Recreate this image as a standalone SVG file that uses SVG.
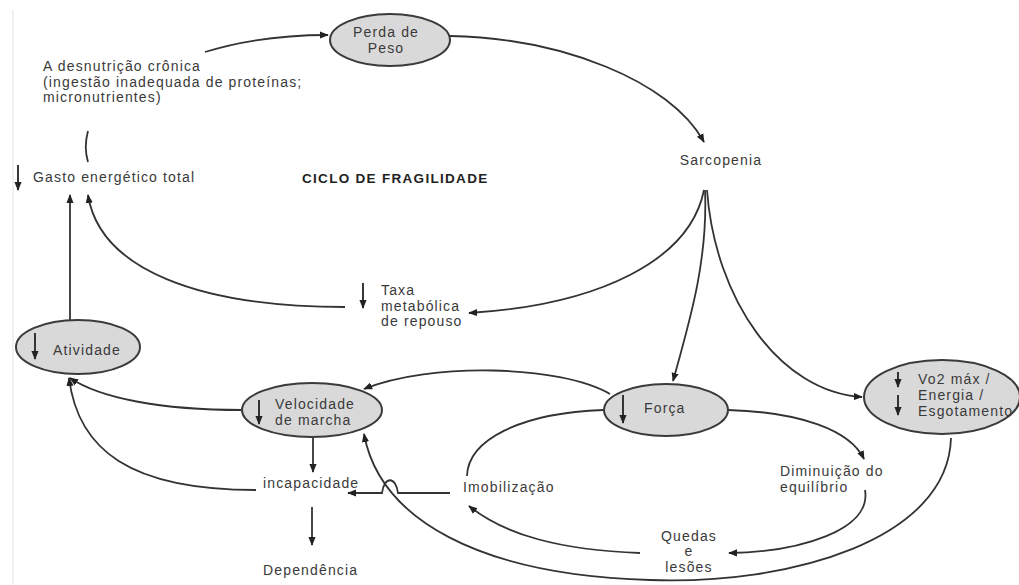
<svg xmlns="http://www.w3.org/2000/svg" width="1019" height="585" viewBox="0 0 1019 585">
<style>
.t{font-family:"Liberation Sans",Arial,sans-serif;font-size:14px;letter-spacing:1.15px;fill:#3a3a3a}
.b{font-family:"Liberation Sans",Arial,sans-serif;font-size:13.5px;letter-spacing:1.3px;font-weight:bold;fill:#222}
.n{fill:#d9d9d9;stroke:#3a3a3a;stroke-width:2}
.c{fill:none;stroke:#333;stroke-width:1.8}
.d{fill:none;stroke:#222;stroke-width:1.8}
</style>
<defs>
<marker id="ah" viewBox="0 0 10 10" refX="9" refY="5" markerWidth="9" markerHeight="9" markerUnits="userSpaceOnUse" orient="auto"><path d="M0,1 L10,5 L0,9 z" fill="#222"/></marker>
</defs>
<rect width="1019" height="585" fill="#fff"/>
<line x1="13" y1="10" x2="13" y2="585" stroke="#ececec" stroke-width="1.5"/>

<g id="connectors">
<path class="c" d="M205,52 C250,38 290,35 328,35" marker-end="url(#ah)"/>
<path class="c" d="M450,36 C560,38 670,80 704,142" marker-end="url(#ah)"/>
<path class="c" d="M88,131 C85,142 85,152 88,162"/>
<line class="c" x1="70" y1="320" x2="70" y2="195" marker-end="url(#ah)"/>
<path class="c" d="M345,307 C200,307 100,270 88,195" marker-end="url(#ah)"/>
<path class="c" d="M704,190 C690,260 600,305 469,313" marker-end="url(#ah)"/>
<path class="c" d="M705,190 C708,260 690,320 673,381" marker-end="url(#ah)"/>
<path class="c" d="M707,190 C715,300 780,392 862,397" marker-end="url(#ah)"/>
<path class="c" d="M610,394 C560,365 430,362 364,389" marker-end="url(#ah)"/>
<path class="c" d="M242,410 C160,410 100,398 70,378" marker-end="url(#ah)"/>
<path class="c" d="M256,490 C130,490 78,450 69,378" marker-end="url(#ah)"/>
<line class="c" x1="313" y1="438" x2="313" y2="472" marker-end="url(#ah)"/>
<line class="c" x1="312" y1="507" x2="312" y2="545" marker-end="url(#ah)"/>
<path class="c" d="M603,410 C520,413 468,440 467,476"/>
<path class="c" d="M728,410 C800,412 850,430 864,459" marker-end="url(#ah)"/>
<path class="c" d="M865,490 C872,530 800,552 729,553" marker-end="url(#ah)"/>
<path class="c" d="M640,553 C560,550 505,535 469,506" marker-end="url(#ah)"/>
<path class="c" d="M450,493 L398,493 C396,476 384,476 382,493 L348,493" marker-end="url(#ah)"/>
<path class="c" d="M951,438 C948,540 790,585 650,580 C480,575 380,520 364,434" marker-end="url(#ah)"/>
</g>

<g id="perda">
<ellipse class="n" cx="390" cy="40" rx="60" ry="26"/>
<text class="t" x="386" y="37" text-anchor="middle">Perda de</text>
<text class="t" x="386" y="53" text-anchor="middle">Peso</text>
</g>

<g id="desnutricao">
<text class="t" x="43" y="71">A desnutrição crônica</text>
<text class="t" x="43" y="87">(ingestão inadequada de proteínas;</text>
<text class="t" x="43" y="102">micronutrientes)</text>
</g>

<g id="sarcopenia">
<text class="t" x="721" y="165" text-anchor="middle">Sarcopenia</text>
</g>

<g id="gasto">
<line class="d" x1="18" y1="165" x2="18" y2="190" marker-end="url(#ah)"/>
<text class="t" x="33" y="182">Gasto energético total</text>
</g>

<g id="titulo">
<text class="b" x="302" y="183">CICLO DE FRAGILIDADE</text>
</g>

<g id="taxa">
<line class="d" x1="363" y1="283" x2="363" y2="308" marker-end="url(#ah)"/>
<text class="t" x="381" y="295">Taxa</text>
<text class="t" x="381" y="311">metabólica</text>
<text class="t" x="381" y="326">de repouso</text>
</g>

<g id="atividade">
<ellipse class="n" cx="78" cy="347" rx="62" ry="27"/>
<line class="d" x1="35" y1="333" x2="35" y2="359" marker-end="url(#ah)"/>
<text class="t" x="53" y="355">Atividade</text>
</g>

<g id="velocidade">
<ellipse class="n" cx="312" cy="410" rx="70" ry="27"/>
<line class="d" x1="259" y1="400" x2="259" y2="424" marker-end="url(#ah)"/>
<text class="t" x="275" y="409">Velocidade</text>
<text class="t" x="275" y="425">de marcha</text>
</g>

<g id="forca">
<ellipse class="n" cx="666" cy="410" rx="62" ry="26"/>
<line class="d" x1="623" y1="395" x2="623" y2="423" marker-end="url(#ah)"/>
<text class="t" x="644" y="413">Força</text>
</g>

<g id="vo2">
<ellipse class="n" cx="942" cy="397" rx="78" ry="37"/>
<line class="d" x1="898" y1="372" x2="898" y2="387" marker-end="url(#ah)"/>
<line class="d" x1="898" y1="395" x2="898" y2="415" marker-end="url(#ah)"/>
<text class="t" x="918" y="384">Vo2 máx /</text>
<text class="t" x="918" y="400">Energia /</text>
<text class="t" x="918" y="416">Esgotamento</text>
</g>

<g id="incapacidade">
<text class="t" x="263" y="488">incapacidade</text>
</g>

<g id="imobilizacao">
<text class="t" x="463" y="492">Imobilização</text>
</g>

<g id="dependencia">
<text class="t" x="263" y="575">Dependência</text>
</g>

<g id="equilibrio">
<text class="t" x="780" y="476">Diminuição do</text>
<text class="t" x="780" y="492">equilíbrio</text>
</g>

<g id="quedas">
<text class="t" x="689" y="541" text-anchor="middle">Quedas</text>
<text class="t" x="689" y="556" text-anchor="middle">e</text>
<text class="t" x="689" y="572" text-anchor="middle">lesões</text>
</g>
</svg>
